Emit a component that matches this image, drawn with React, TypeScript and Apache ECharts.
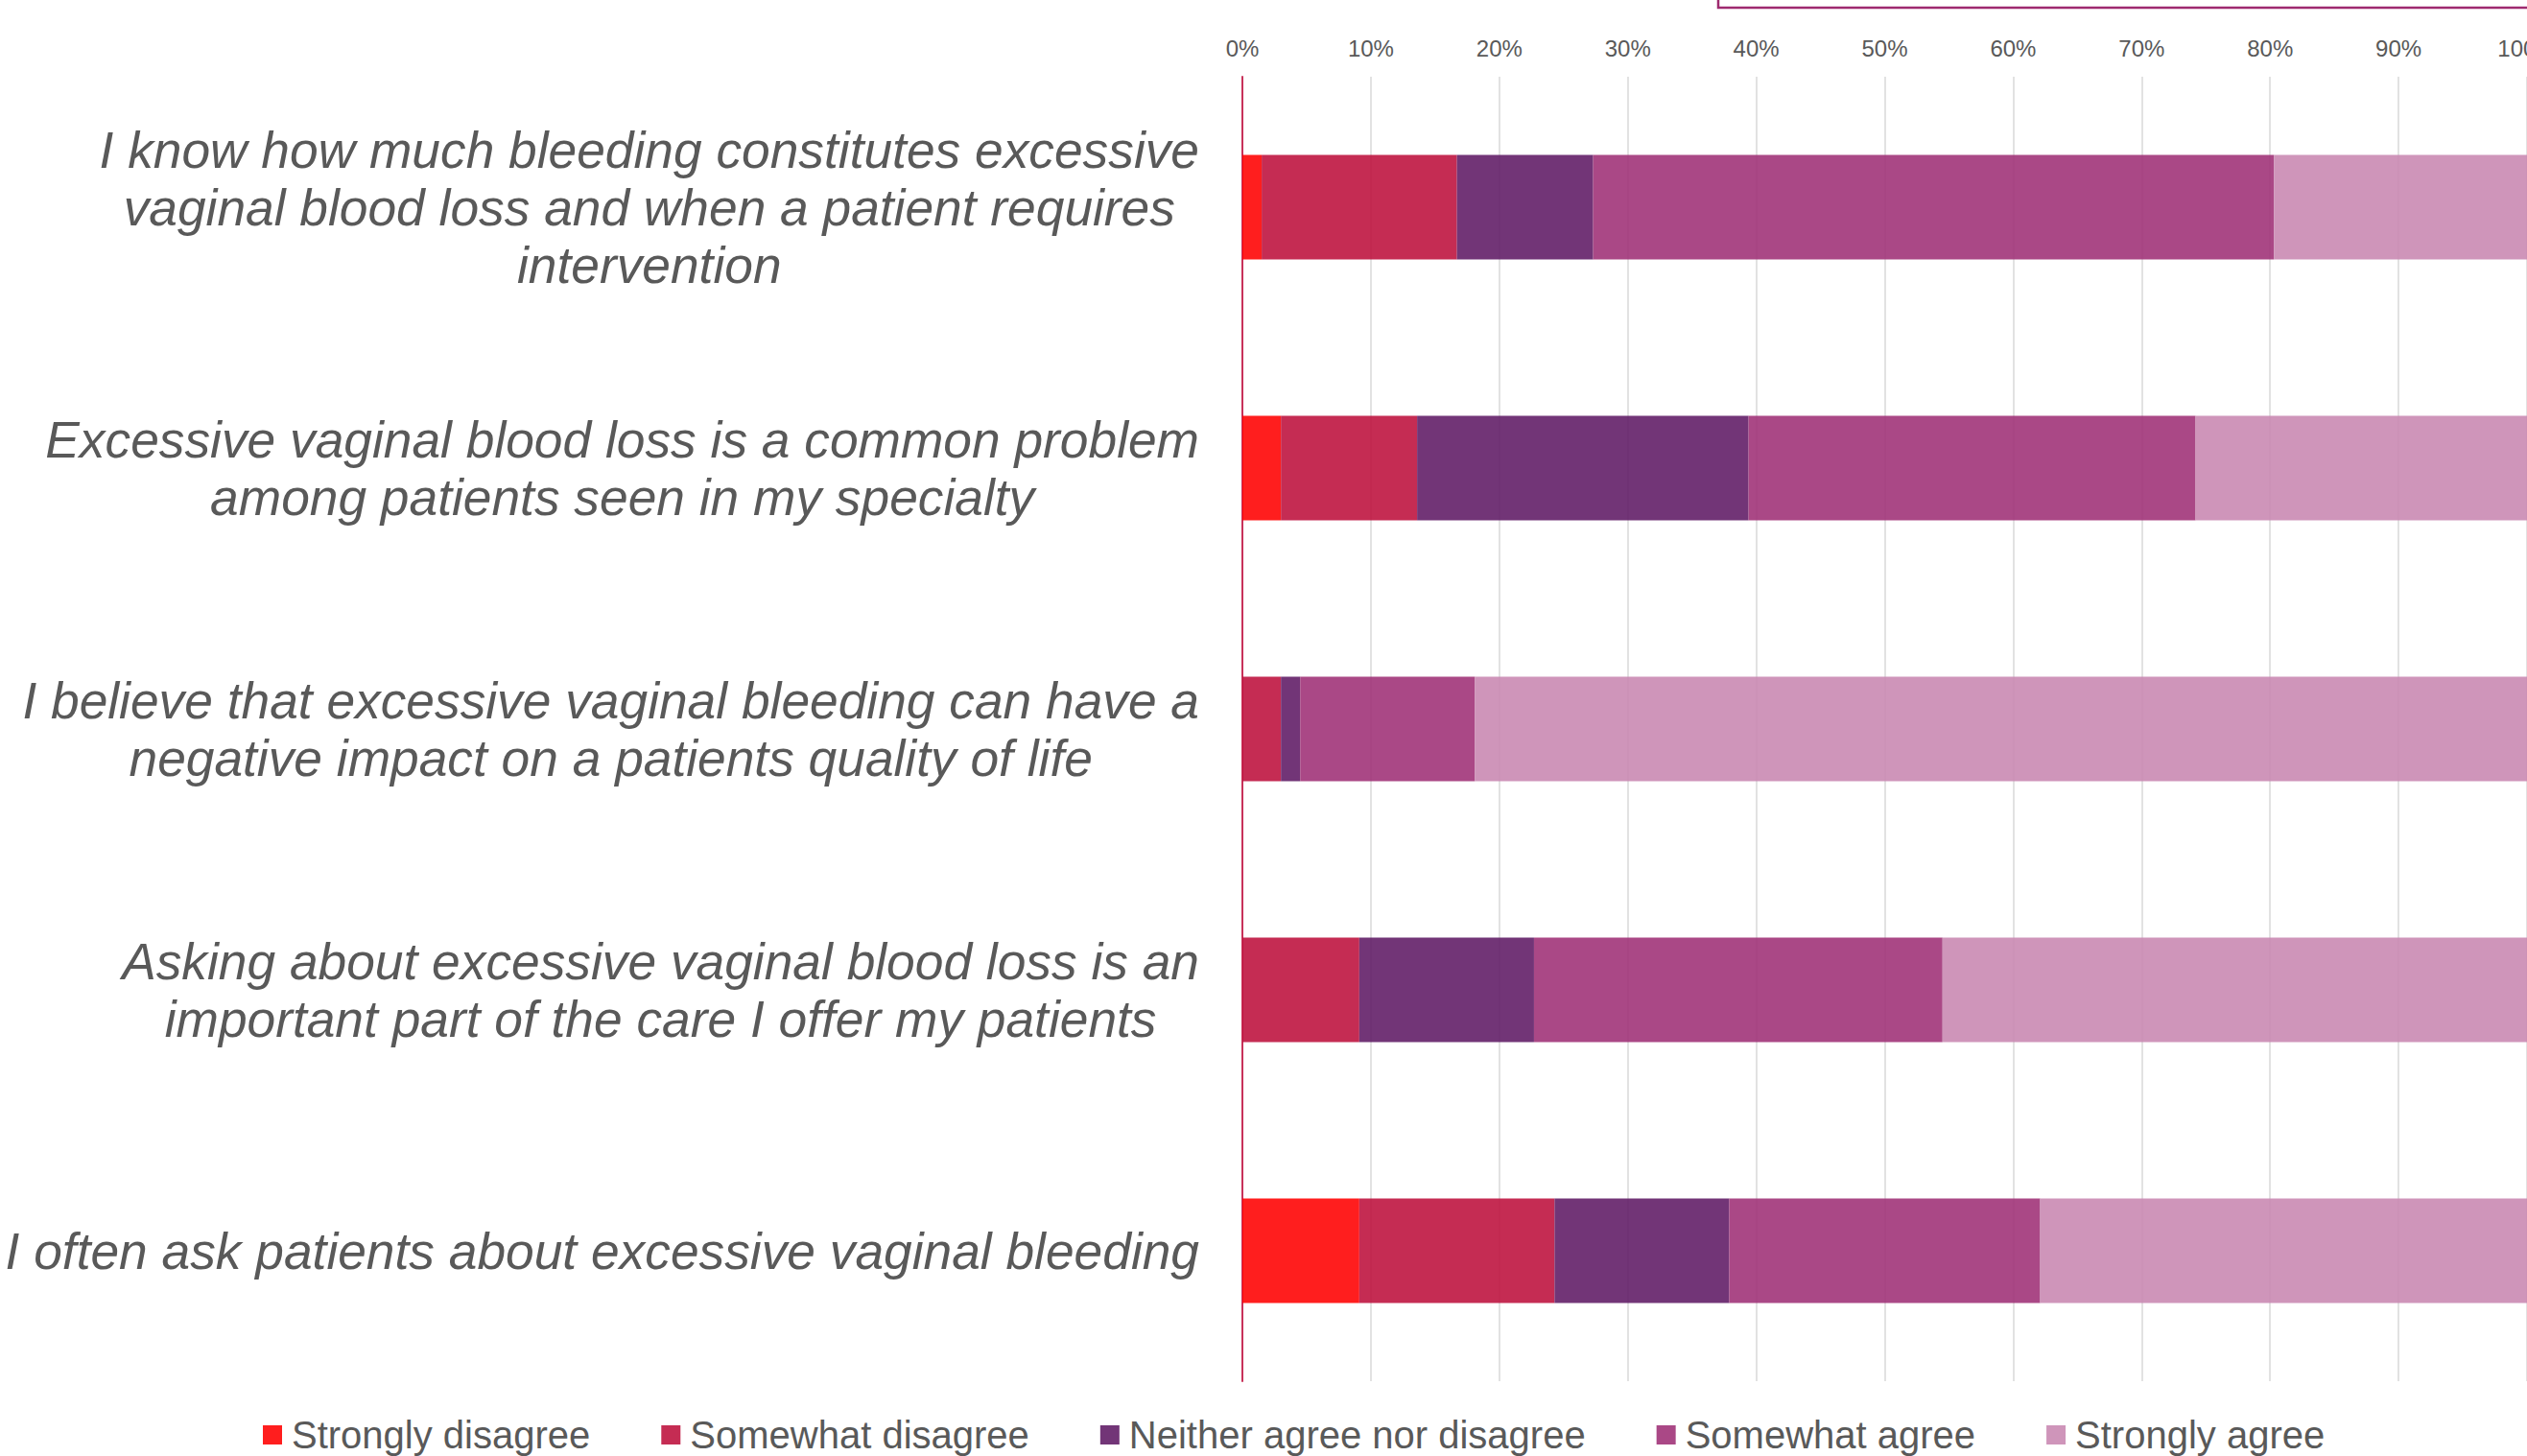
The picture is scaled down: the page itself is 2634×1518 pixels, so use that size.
import React, { useEffect, useRef } from "react";
import * as echarts from "echarts";

const categories = [
  "I know how much bleeding constitutes excessive\nvaginal blood loss and when a patient requires\nintervention",
  "Excessive vaginal blood loss is a common problem\namong patients seen in my specialty",
  "I believe that excessive vaginal bleeding can have a\nnegative impact on a patients quality of life",
  "Asking about excessive vaginal blood loss is an\nimportant part of the care I offer my patients",
  "I often ask patients about excessive vaginal bleeding",
];

const seriesNames = [
  "Strongly disagree",
  "Somewhat disagree",
  "Neither agree nor disagree",
  "Somewhat agree",
  "Strongly agree",
];

const stronglyDisagree = [1.5, 3.0, 0, 0, 9.1];
const somewhatDisagree = [15.2, 10.6, 3.0, 9.1, 15.2];
const neither = [10.6, 25.8, 1.5, 13.6, 13.6];
const somewhatAgree = [53.0, 34.8, 13.6, 31.8, 24.2];
const stronglyAgree = [19.7, 25.8, 81.9, 45.5, 37.9];

const seriesValues = [stronglyDisagree, somewhatDisagree, neither, somewhatAgree, stronglyAgree];
const seriesColors = ["#FF0505", "#BF1540", "#631F68", "#A13479", "#CA89B2"];

const xTicks = { min: 0, max: 100, interval: 10 };

export default function App() {
  const ref = useRef<HTMLDivElement>(null);

  useEffect(() => {
    if (!ref.current) return;
    const chart = echarts.init(ref.current, null, { renderer: "svg" });
    const font = "'Liberation Sans', Arial, sans-serif";

    chart.setOption({
      animation: false,
      backgroundColor: "#ffffff",
      grid: {
        left: 1295,
        right: 0,
        top: 80,
        bottom: 78,
        containLabel: false,
        outerBoundsMode: "none",
      },
      graphic: [
        {
          type: "rect",
          shape: { x: 1791, y: -12, width: 1000, height: 20 },
          style: { fill: "none", stroke: "#9E2A6F", lineWidth: 2.5 },
          z: 100,
        },
      ],
      legend: {
        data: seriesNames,
        left: 269,
        top: 1471,
        icon: "rect",
        itemWidth: 20,
        itemHeight: 20,
        itemGap: 74,
        textStyle: {
          fontSize: 40,
          lineHeight: 40,
          color: "#595959",
          fontFamily: font,
          padding: [0, 0, 0, 5],
        },
      },
      xAxis: {
        type: "value",
        position: "top",
        min: xTicks.min,
        max: xTicks.max,
        interval: xTicks.interval,
        axisLine: { show: false },
        axisTick: { show: false },
        axisLabel: {
          formatter: "{value}%",
          fontSize: 24,
          color: "#595959",
          fontFamily: font,
          margin: 18,
        },
        splitLine: { show: true, lineStyle: { color: "#D9D9D9", width: 1.5 } },
      },
      yAxis: {
        type: "category",
        inverse: true,
        data: categories,
        axisLine: { show: true, lineStyle: { color: "#C8325A", width: 2 } },
        axisTick: { show: false },
        axisLabel: {
          margin: 45,
          align: "right",
          formatter: (v: string) =>
            v
              .split("\n")
              .map((l) => `{c|${l}}`)
              .join("\n"),
          rich: {
            c: {
              align: "center",
              fontSize: 53.3,
              lineHeight: 60,
              fontStyle: "italic",
              color: "#595959",
              fontFamily: font,
            },
          },
        },
      },
      series: seriesNames.map((name, i) => ({
        name,
        type: "bar",
        stack: "total",
        barWidth: "40%",
        data: seriesValues[i],
        itemStyle: { color: seriesColors[i], opacity: 0.9 },
        emphasis: { disabled: true },
      })),
    });

    return () => chart.dispose();
  }, []);

  return (
    <div
      ref={ref}
      style={{ position: "fixed", left: 0, top: 0, width: 2634, height: 1518 }}
    />
  );
}
